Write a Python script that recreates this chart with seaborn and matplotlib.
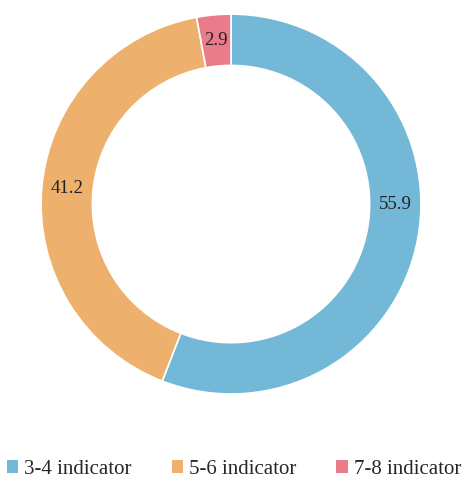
import matplotlib
matplotlib.use("Agg")
import numpy as np
import matplotlib.pyplot as plt
import seaborn as sns
from matplotlib.patches import Patch

# Datos del gráfico
categorias = ["3-4 indicator", "5-6 indicator", "7-8 indicator"]
valores = [55.9, 41.2, 2.9]
colores = ["#74B8D7", "#EEB06D", "#E97B8B"]

sns.set_style("white")
plt.rcParams["font.family"] = ["Liberation Serif", "DejaVu Serif"]

fig = plt.figure(figsize=(4.68, 4.79), dpi=100)
ax = fig.add_axes([0.0876, 0.1775, 0.812, 0.793])

ancho = 0.27
wedges, textos, autotextos = ax.pie(
    valores, colors=colores, startangle=90, counterclock=False,
    radius=1.0, wedgeprops=dict(width=ancho, edgecolor="white", linewidth=1.2),
    autopct=lambda p: f"{p:.1f}", pctdistance=1 - ancho / 2,
    textprops=dict(fontsize=13.5, color="#222222"))
ax.set_xlim(-1, 1)
ax.set_ylim(-1, 1)
ax.set_aspect("equal")

# la etiqueta del segmento grande va a la altura del centro (como en el original)
r_mid = 1 - ancho / 2
autotextos[0].set_position((r_mid * np.cos(0.0), r_mid * np.sin(0.0)))

handles = [Patch(facecolor=c, edgecolor="none") for c in colores]
fig.legend(handles, categorias, loc="center", bbox_to_anchor=(0.5, 0.02),
           ncol=3, frameon=False, fontsize=15, handlelength=0.55,
           handleheight=0.55, handletextpad=0.3, columnspacing=1.9)

fig.savefig("out.png", dpi=100)
